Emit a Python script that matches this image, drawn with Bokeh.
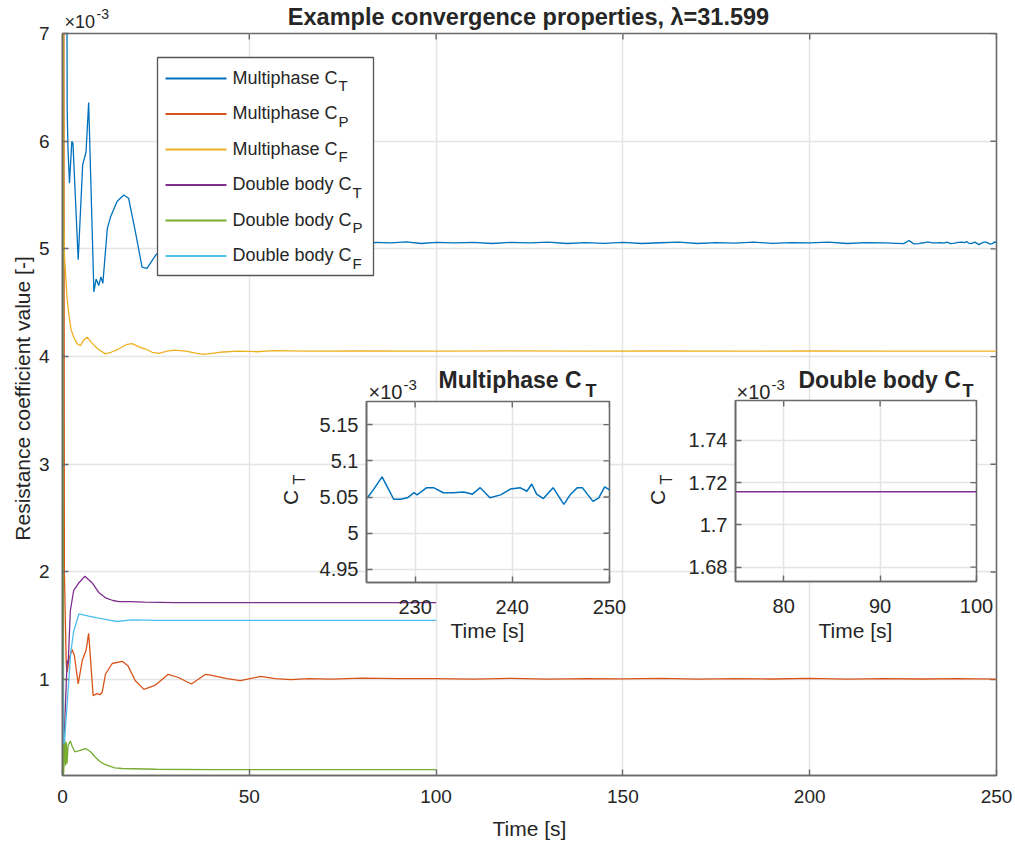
from bokeh.plotting import figure
from bokeh.models import Range1d, FixedTicker, CustomJSTickFormatter
from bokeh.embed import file_html
from bokeh.resources import INLINE
from bokeh.core.properties import value

# ---------------- data (values in units of 1e-3) ----------------
t_mp_ct = [0.0, 1.1, 1.25, 1.45, 1.87, 2.5, 2.8, 4.2, 5.4, 6.3, 7.0, 8.4, 9.0, 9.7, 10.3, 10.8,
           12.0, 12.9, 14.6, 16.4, 17.7, 19.5, 21.3, 22.6, 24.9, 28, 31, 35, 40, 50, 60, 70, 80,
           84, 88, 92, 96, 100, 105, 110, 115, 120, 125, 130, 135, 140, 145, 150, 155, 160, 165,
           170, 175, 180, 185, 190, 195, 200, 205, 210, 215, 220,
           225.1, 225.75, 226.6, 227.1, 227.8, 228.5, 229.2, 229.9, 230.2, 231.2, 231.9, 232.9,
           233.9, 235.0, 235.9, 236.7, 237.7, 238.8, 239.8, 240.8, 241.5, 242.0, 242.5, 243.2,
           244.2, 245.3, 246.0, 246.7, 247.2, 248.3, 248.9, 249.5, 250.0]
v_mp_ct = [20.0, 9.0, 6.3, 5.95, 5.61, 6.0, 5.98, 4.9, 5.78, 5.9, 6.36, 4.6, 4.72, 4.66, 4.74, 4.68,
           5.19, 5.3, 5.44, 5.5, 5.47, 5.16, 4.83, 4.82, 4.94, 5.04, 5.08, 5.03, 5.05, 5.06, 5.05, 5.055, 5.05,
           5.06, 5.055, 5.065, 5.05, 5.06, 5.055, 5.06, 5.05, 5.06, 5.055, 5.062, 5.05, 5.058, 5.052, 5.06,
           5.05, 5.057, 5.062, 5.05, 5.058, 5.054, 5.062, 5.052, 5.058, 5.055, 5.062, 5.05, 5.058, 5.055,
           5.049, 5.061, 5.078, 5.065, 5.047, 5.047, 5.049, 5.056, 5.053, 5.063, 5.063, 5.056,
           5.056, 5.057, 5.054, 5.063, 5.049, 5.053, 5.061, 5.063, 5.058, 5.068, 5.054, 5.048,
           5.063, 5.040, 5.054, 5.063, 5.063, 5.044, 5.049, 5.064, 5.060]

t_mp_cp = [0.0, 0.3, 0.5, 1.0, 1.25, 1.8, 2.6, 3.2, 4.2, 5.3, 6.3, 7.0, 8.2, 9.2, 10.0, 10.6, 11.5,
           13.3, 16.0, 17.5, 19.5, 21.8, 24.9, 28.3, 31, 34.5, 38.3, 40, 44, 47.6, 53, 57, 61, 66,
           72, 80, 90, 100, 110, 120, 130, 140, 150, 160, 170, 180, 190, 200, 210, 220, 230, 240, 250]
v_mp_cp = [20.0, 10.0, 2.0, 1.15, 1.07, 1.2, 1.28, 1.22, 0.96, 1.18, 1.27, 1.43, 0.85, 0.87, 0.86,
           0.88, 1.05, 1.15, 1.17, 1.13, 0.99, 0.91, 0.95, 1.05, 1.02, 0.96, 1.05, 1.04, 1.01, 0.99,
           1.03, 1.01, 1.0, 1.01, 1.005, 1.015, 1.01, 1.01, 1.005, 1.012, 1.005, 1.01, 1.008, 1.012,
           1.005, 1.01, 1.006, 1.012, 1.005, 1.01, 1.006, 1.01, 1.005]

t_mp_cf = [0.0, 0.3, 0.5, 0.8, 1.2, 1.7, 2.3, 3.0, 3.9, 4.8, 5.6, 6.6, 8.0, 9.5, 11.5, 13, 15,
           17, 18.6, 20.5, 22.2, 24, 25.8, 28, 30, 33, 36, 38, 42, 47, 52, 56.5, 65, 80, 100,
           120, 140, 160, 180, 200, 220, 250]
v_mp_cf = [20.0, 5.3, 4.95, 4.78, 4.55, 4.39, 4.25, 4.18, 4.12, 4.10, 4.15, 4.18, 4.12, 4.07,
           4.025, 4.04, 4.07, 4.11, 4.12, 4.09, 4.07, 4.04, 4.03, 4.05, 4.06, 4.05, 4.03, 4.02,
           4.04, 4.05, 4.045, 4.055, 4.05, 4.052, 4.05, 4.053, 4.05, 4.052, 4.05, 4.052, 4.05, 4.05]

t_db_ct = [0.0, 0.5, 1.1, 1.3, 1.52, 2.1, 3.0, 4.4, 6.0, 7.9, 9.7, 11.5, 13.5, 15.1, 18, 22, 30,
           40, 60, 100]
v_db_ct = [0.3, 0.5, 1.05, 1.18, 1.15, 1.64, 1.83, 1.9, 1.96, 1.9, 1.81, 1.76, 1.735, 1.725,
           1.725, 1.72, 1.716, 1.716, 1.7157, 1.7157]

t_db_cp = [0.0, 0.3, 0.6, 0.8, 1.0, 1.2, 1.5, 2.1, 2.6, 3.3, 4.5, 6.2, 7.5, 8.8, 10, 11.5, 14,
           16, 25, 40, 100]
v_db_cp = [9.0, 0.12, 0.44, 0.2, 0.42, 0.22, 0.39, 0.43, 0.38, 0.33, 0.34, 0.36, 0.33, 0.28,
           0.24, 0.21, 0.18, 0.175, 0.168, 0.165, 0.165]

t_db_cf = [0.0, 0.3, 0.54, 1.5, 2.2, 3.0, 4.4, 7.0, 9.0, 11.5, 14.6, 18.5, 25, 100]
v_db_cf = [1.48, 0.4, 0.43, 0.9, 1.25, 1.45, 1.61, 1.59, 1.575, 1.56, 1.54, 1.555, 1.55, 1.55]

series_names = ["Multiphase C", "Multiphase C", "Multiphase C",
                "Double body C", "Double body C", "Double body C"]
series_subs = ["T", "P", "F", "T", "P", "F"]
colors = ["#0072BD", "#D95319", "#EDB120", "#7E2F8E", "#77AC30", "#4DBEEE"]

main_xticks = [0, 50, 100, 150, 200, 250]
main_yticks = [1, 2, 3, 4, 5, 6, 7]
in1_xticks = [230, 240, 250]
in1_yticks = [4.95, 5.0, 5.05, 5.1, 5.15]
in2_xticks = [80, 90, 100]
in2_yticks = [1.68, 1.70, 1.72, 1.74]

# ---------------- styling ----------------
FONT = "Liberation Sans"
TXT = "#262626"
AX = "#6a6a6a"
GRID = "#e4e4e4"
fmt = CustomJSTickFormatter(code="return tick.toString();")
W, H = 1015, 845


def setup_axes(fig, xt, yt, tick_px, xstand, ystand):
    xr, yr = fig.x_range, fig.y_range
    fig.xaxis.ticker = FixedTicker(ticks=xt)
    fig.yaxis.ticker = FixedTicker(ticks=yt)
    fig.xgrid.ticker = FixedTicker(ticks=xt)
    fig.ygrid.ticker = FixedTicker(ticks=yt)
    for g in (fig.xgrid, fig.ygrid):
        g.grid_line_color = GRID
        g.grid_line_width = 1.5
    for ax in fig.axis:
        ax.formatter = fmt
        ax.axis_line_color = AX
        ax.axis_line_width = 1.6
        ax.major_tick_line_color = AX
        ax.major_tick_line_width = 1.4
        ax.major_tick_in = 6
        ax.major_tick_out = 0
        ax.minor_tick_line_color = None
        ax.major_label_text_font = FONT
        ax.major_label_text_color = TXT
        ax.major_label_text_font_size = tick_px
    fig.xaxis.major_label_standoff = xstand
    fig.yaxis.major_label_standoff = ystand
    fig.outline_line_color = AX
    fig.outline_line_width = 1.6
    # inward ticks on the top and right edges of the box
    fig.scatter(x=xt, y=[yr.end] * len(xt), marker="dash", angle=1.5708, size=12,
                line_color=AX, line_width=1.4)
    fig.scatter(x=[xr.end] * len(yt), y=yt, marker="dash", size=12,
                line_color=AX, line_width=1.4)


# ---------------- main figure ----------------
FL, FT, FR, FB = 62, 33, 996, 775
p = figure(width=W, height=H, x_range=Range1d(0, 250), y_range=Range1d(0.11, 7.0),
           output_backend="svg", toolbar_location=None,
           min_border_left=FL, min_border_right=W - FR, min_border_top=FT,
           min_border_bottom=H - FB)
p.extra_x_ranges = {"px": Range1d(FL, FR)}
p.extra_y_ranges = {"py": Range1d(FB, FT)}
setup_axes(p, main_xticks, main_yticks, "19px", 14, 13)

series = [(t_mp_ct, v_mp_ct), (t_mp_cp, v_mp_cp), (t_mp_cf, v_mp_cf),
          (t_db_ct, v_db_ct), (t_db_cp, v_db_cp), (t_db_cf, v_db_cf)]
for (t, v), c in zip(series, colors):
    p.line(t, v, line_color=c, line_width=1.3)

# legend (manual, to allow subscripts)
rows = [78, 113.5, 149, 184.5, 220, 255.5]
p.quad(left=157, right=373, top=57, bottom=275, fill_color="white", line_color="#555555",
       line_width=1.3, x_range_name="px", y_range_name="py")
p.segment(x0=[165] * 6, x1=[226] * 6, y0=rows, y1=rows, line_color=colors, line_width=2,
          x_range_name="px", y_range_name="py")
p.text(x=[232] * 6, y=[r - 1 for r in rows], text=series_names, text_font=value(FONT),
       text_font_size="18px", text_color=TXT, text_baseline="middle",
       x_range_name="px", y_range_name="py")
sub_x = [338, 338, 338, 352, 352, 352]
p.text(x=sub_x, y=[r + 7 for r in rows], text=series_subs, text_font=value(FONT),
       text_font_size="15px", text_color=TXT, text_baseline="middle",
       x_range_name="px", y_range_name="py")


# ---------------- insets ----------------
def inset(xr, yr, xt, yt, left, top, fw, fh, t, v, color):
    f = figure(width=100 + fw + 26, height=41 + fh + 73, x_range=Range1d(*xr), y_range=Range1d(*yr),
               output_backend="svg", toolbar_location=None,
               min_border_left=100, min_border_right=26, min_border_top=41, min_border_bottom=73,
               styles={"position": "absolute", "left": f"{left}px", "top": f"{top}px"})
    f.border_fill_alpha = 0
    f.background_fill_color = "white"
    setup_axes(f, xt, yt, "20px", 17, 8)
    f.line(t, v, line_color=color, line_width=1.5)
    return f


p1 = inset((225, 250), (4.932, 5.182), in1_xticks, in1_yticks, 266, 360, 243, 181,
           t_mp_ct, v_mp_ct, colors[0])
p2 = inset((75, 100), (1.6732, 1.7589), in2_xticks, in2_yticks, 635, 359, 241, 181,
           t_db_ct, v_db_ct, colors[3])

# ---------------- text overlay (titles, labels, exponents, subscripts) ----------------
ov = figure(width=W, height=H, x_range=Range1d(0, W), y_range=Range1d(H, 0),
            x_axis_type=None, y_axis_type=None, output_backend="svg", toolbar_location=None,
            min_border=0, min_border_left=0, min_border_right=0, min_border_top=0,
            min_border_bottom=0,
            styles={"position": "absolute", "left": "0px", "top": "0px", "pointer-events": "none"})
ov.grid.visible = False
ov.outline_line_color = None
ov.background_fill_alpha = 0
ov.border_fill_alpha = 0


def txt(x, y, s, size, bold=False, align="left", angle=0.0):
    ov.text(x=[x], y=[y], text=[s], text_font=value(FONT), text_font_size=size,
            text_color=TXT, text_font_style="bold" if bold else "normal",
            text_align=align, text_baseline="middle", angle=angle)


# main
txt(528, 16, "Example convergence properties, \u03bb=31.599", "23.5px", bold=True, align="center")
txt(64, 21, "\u00d710", "18px")
txt(96, 13, "-3", "14px")
txt(529, 828, "Time [s]", "21px", align="center")
txt(22, 398, "Resistance coefficient value [-]", "21px", align="center", angle=1.5708)
# inset 1
txt(438, 379, "Multiphase C", "23px", bold=True)
txt(585, 390, "T", "18px", bold=True)
txt(368, 391, "\u00d710", "20px")
txt(403, 384, "-3", "15px")
txt(487, 630, "Time [s]", "21px", align="center")
txt(290, 497, "C", "21px", align="center", angle=1.5708)
txt(299, 479, "T", "16px", align="center", angle=1.5708)
# inset 2
txt(798, 379, "Double body C", "23px", bold=True)
txt(962, 390, "T", "18px", bold=True)
txt(736, 391, "\u00d710", "20px")
txt(771, 384, "-3", "15px")
txt(855, 630, "Time [s]", "21px", align="center")
txt(657, 497, "C", "21px", align="center", angle=1.5708)
txt(666, 479, "T", "16px", align="center", angle=1.5708)

open("out.html", "w").write(file_html([p, p1, p2, ov], INLINE))
